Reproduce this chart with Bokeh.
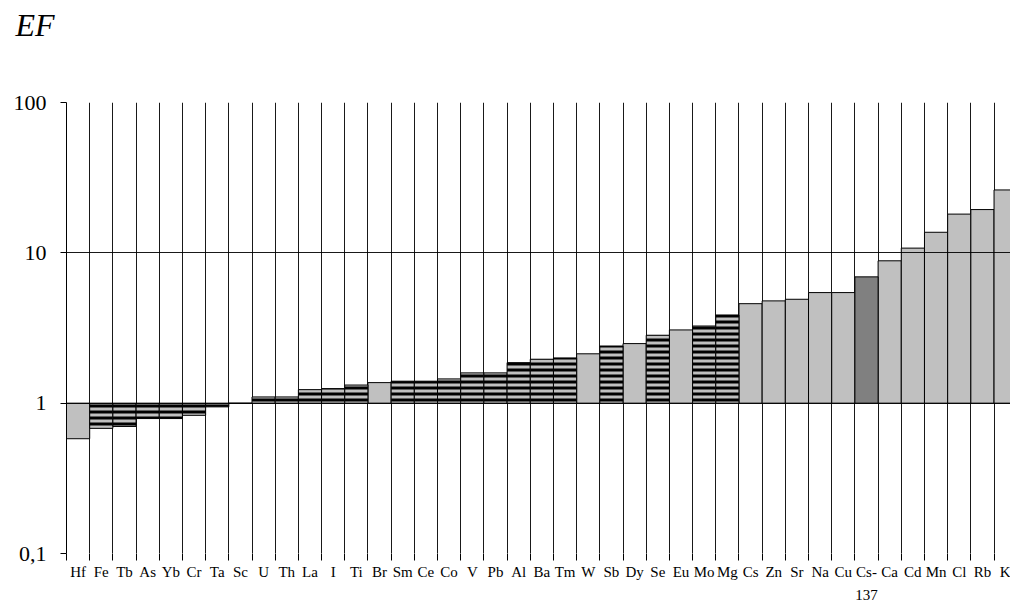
from bokeh.plotting import figure
from bokeh.models import Range1d, FixedTicker, LinearAxis, Title, CustomJSTickFormatter
from bokeh.embed import file_html
from bokeh.resources import INLINE

# ---- data ----
categories = ["Hf", "Fe", "Tb", "As", "Yb", "Cr", "Ta", "Sc", "U", "Th", "La", "I", "Ti",
              "Br", "Sm", "Ce", "Co", "V", "Pb", "Al", "Ba", "Tm", "W", "Sb", "Dy", "Se",
              "Eu", "Mo", "Mg", "Cs", "Zn", "Sr", "Na", "Cu", "Cs-137", "Ca", "Cd", "Mn",
              "Cl", "Rb", "K"]
ef_values = [0.58, 0.68, 0.70, 0.79, 0.79, 0.83, 0.945, 1.0, 1.10, 1.10, 1.23, 1.25, 1.32,
             1.37, 1.40, 1.40, 1.45, 1.59, 1.59, 1.86, 1.96, 2.00, 2.13, 2.40, 2.49, 2.83,
             3.07, 3.26, 3.86, 4.59, 4.79, 4.91, 5.44, 5.44, 6.92, 8.85, 10.75, 13.7,
             18.1, 19.4, 26.2]
groups = ["gray", "hatch", "hatch", "hatch", "hatch", "hatch", "hatch", "hatch", "hatch",
          "hatch", "hatch", "hatch", "hatch", "gray", "hatch", "hatch", "hatch", "hatch",
          "hatch", "hatch", "hatch", "hatch", "gray", "hatch", "gray", "hatch", "gray",
          "hatch", "hatch", "gray", "gray", "gray", "gray", "gray", "dark", "gray", "gray",
          "gray", "gray", "gray", "gray"]
label_overrides = {"Cs-137": "Cs-\n137"}
y_ticks = [0.1, 1, 10, 100]
y_tick_labels = ["0,1", "1", "10", "100"]
grid_levels = [1, 10, 100]
y_title = "EF"

SERIF = "Liberation Serif"

n = len(categories)
xs = list(range(n))
boundaries = [i - 0.5 for i in range(n + 1)]

p = figure(width=1010, height=607, output_backend="svg", toolbar_location=None, title=None,
           x_range=Range1d(-0.5, 40.21), y_range=Range1d(0.1, 100), y_axis_type="log",
           min_border_left=66, min_border_right=0, min_border_top=102, min_border_bottom=54)
p.outline_line_color = None
p.background_fill_color = "white"

# spacer panel (nearest the frame) then the EF title above it
p.add_layout(Title(text=" ", text_font=SERIF, text_font_size="10px", standoff=47,
                   vertical_align="bottom", align="left"), "above")
p.add_layout(Title(text=y_title, align="left", offset=-51, standoff=0, vertical_align="bottom",
                   text_font=SERIF, text_font_style="italic", text_font_size="32px",
                   text_color="black"), "above")

# bars
styles = {
    "gray": dict(fill_color="#c0c0c0"),
    "dark": dict(fill_color="#808080"),
    "hatch": dict(fill_color="#c0c0c0", hatch_pattern="horizontal_line",
                  hatch_color="black", hatch_scale=6, hatch_weight=3),
}
for grp, st in styles.items():
    gx = [xs[i] for i in range(n) if groups[i] == grp]
    gy = [ef_values[i] for i in range(n) if groups[i] == grp]
    p.vbar(x=gx, width=1, bottom=1, top=gy, line_color="black", line_width=1, **st)

# grids
p.xgrid.ticker = FixedTicker(ticks=boundaries)
p.xgrid.grid_line_color = "black"
p.xgrid.grid_line_alpha = 0.9
p.ygrid.ticker = FixedTicker(ticks=grid_levels)
p.ygrid.grid_line_color = "black"
p.ygrid.grid_line_alpha = 0.9
p.ygrid.level = "glyph"

# y axis
ya = p.yaxis[0]
ya.ticker = FixedTicker(ticks=y_ticks, minor_ticks=[])
ya.major_label_overrides = dict(zip(y_ticks, y_tick_labels))
ya.minor_tick_line_color = None
ya.major_tick_in = 0
ya.major_tick_out = 6
ya.major_tick_line_color = "black"
ya.axis_line_color = "black"
ya.major_label_standoff = 14
ya.major_label_text_font = SERIF
ya.major_label_text_font_size = "22px"
ya.major_label_text_color = "black"

# x axis: boundary tick marks only
xa = p.xaxis[0]
xa.ticker = FixedTicker(ticks=boundaries, minor_ticks=[])
xa.formatter = CustomJSTickFormatter(code="return ''")
xa.axis_line_color = None
xa.major_tick_in = 0
xa.major_tick_out = 7
xa.major_tick_line_color = "black"
xa.minor_tick_line_color = None
xa.major_label_text_font_size = "1px"
xa.major_label_standoff = 0

# x axis: category names
xl = LinearAxis(ticker=FixedTicker(ticks=xs, minor_ticks=[]),
                major_label_overrides={i: label_overrides.get(c, c) for i, c in enumerate(categories)},
                axis_line_color=None, major_tick_line_color=None, minor_tick_line_color=None,
                major_tick_in=0, major_tick_out=0, major_label_standoff=3,
                major_label_text_font=SERIF, major_label_text_font_size="15px",
                major_label_text_color="black", major_label_text_line_height=1.45)
p.add_layout(xl, "below")

open("out.html", "w").write(file_html(p, INLINE))
